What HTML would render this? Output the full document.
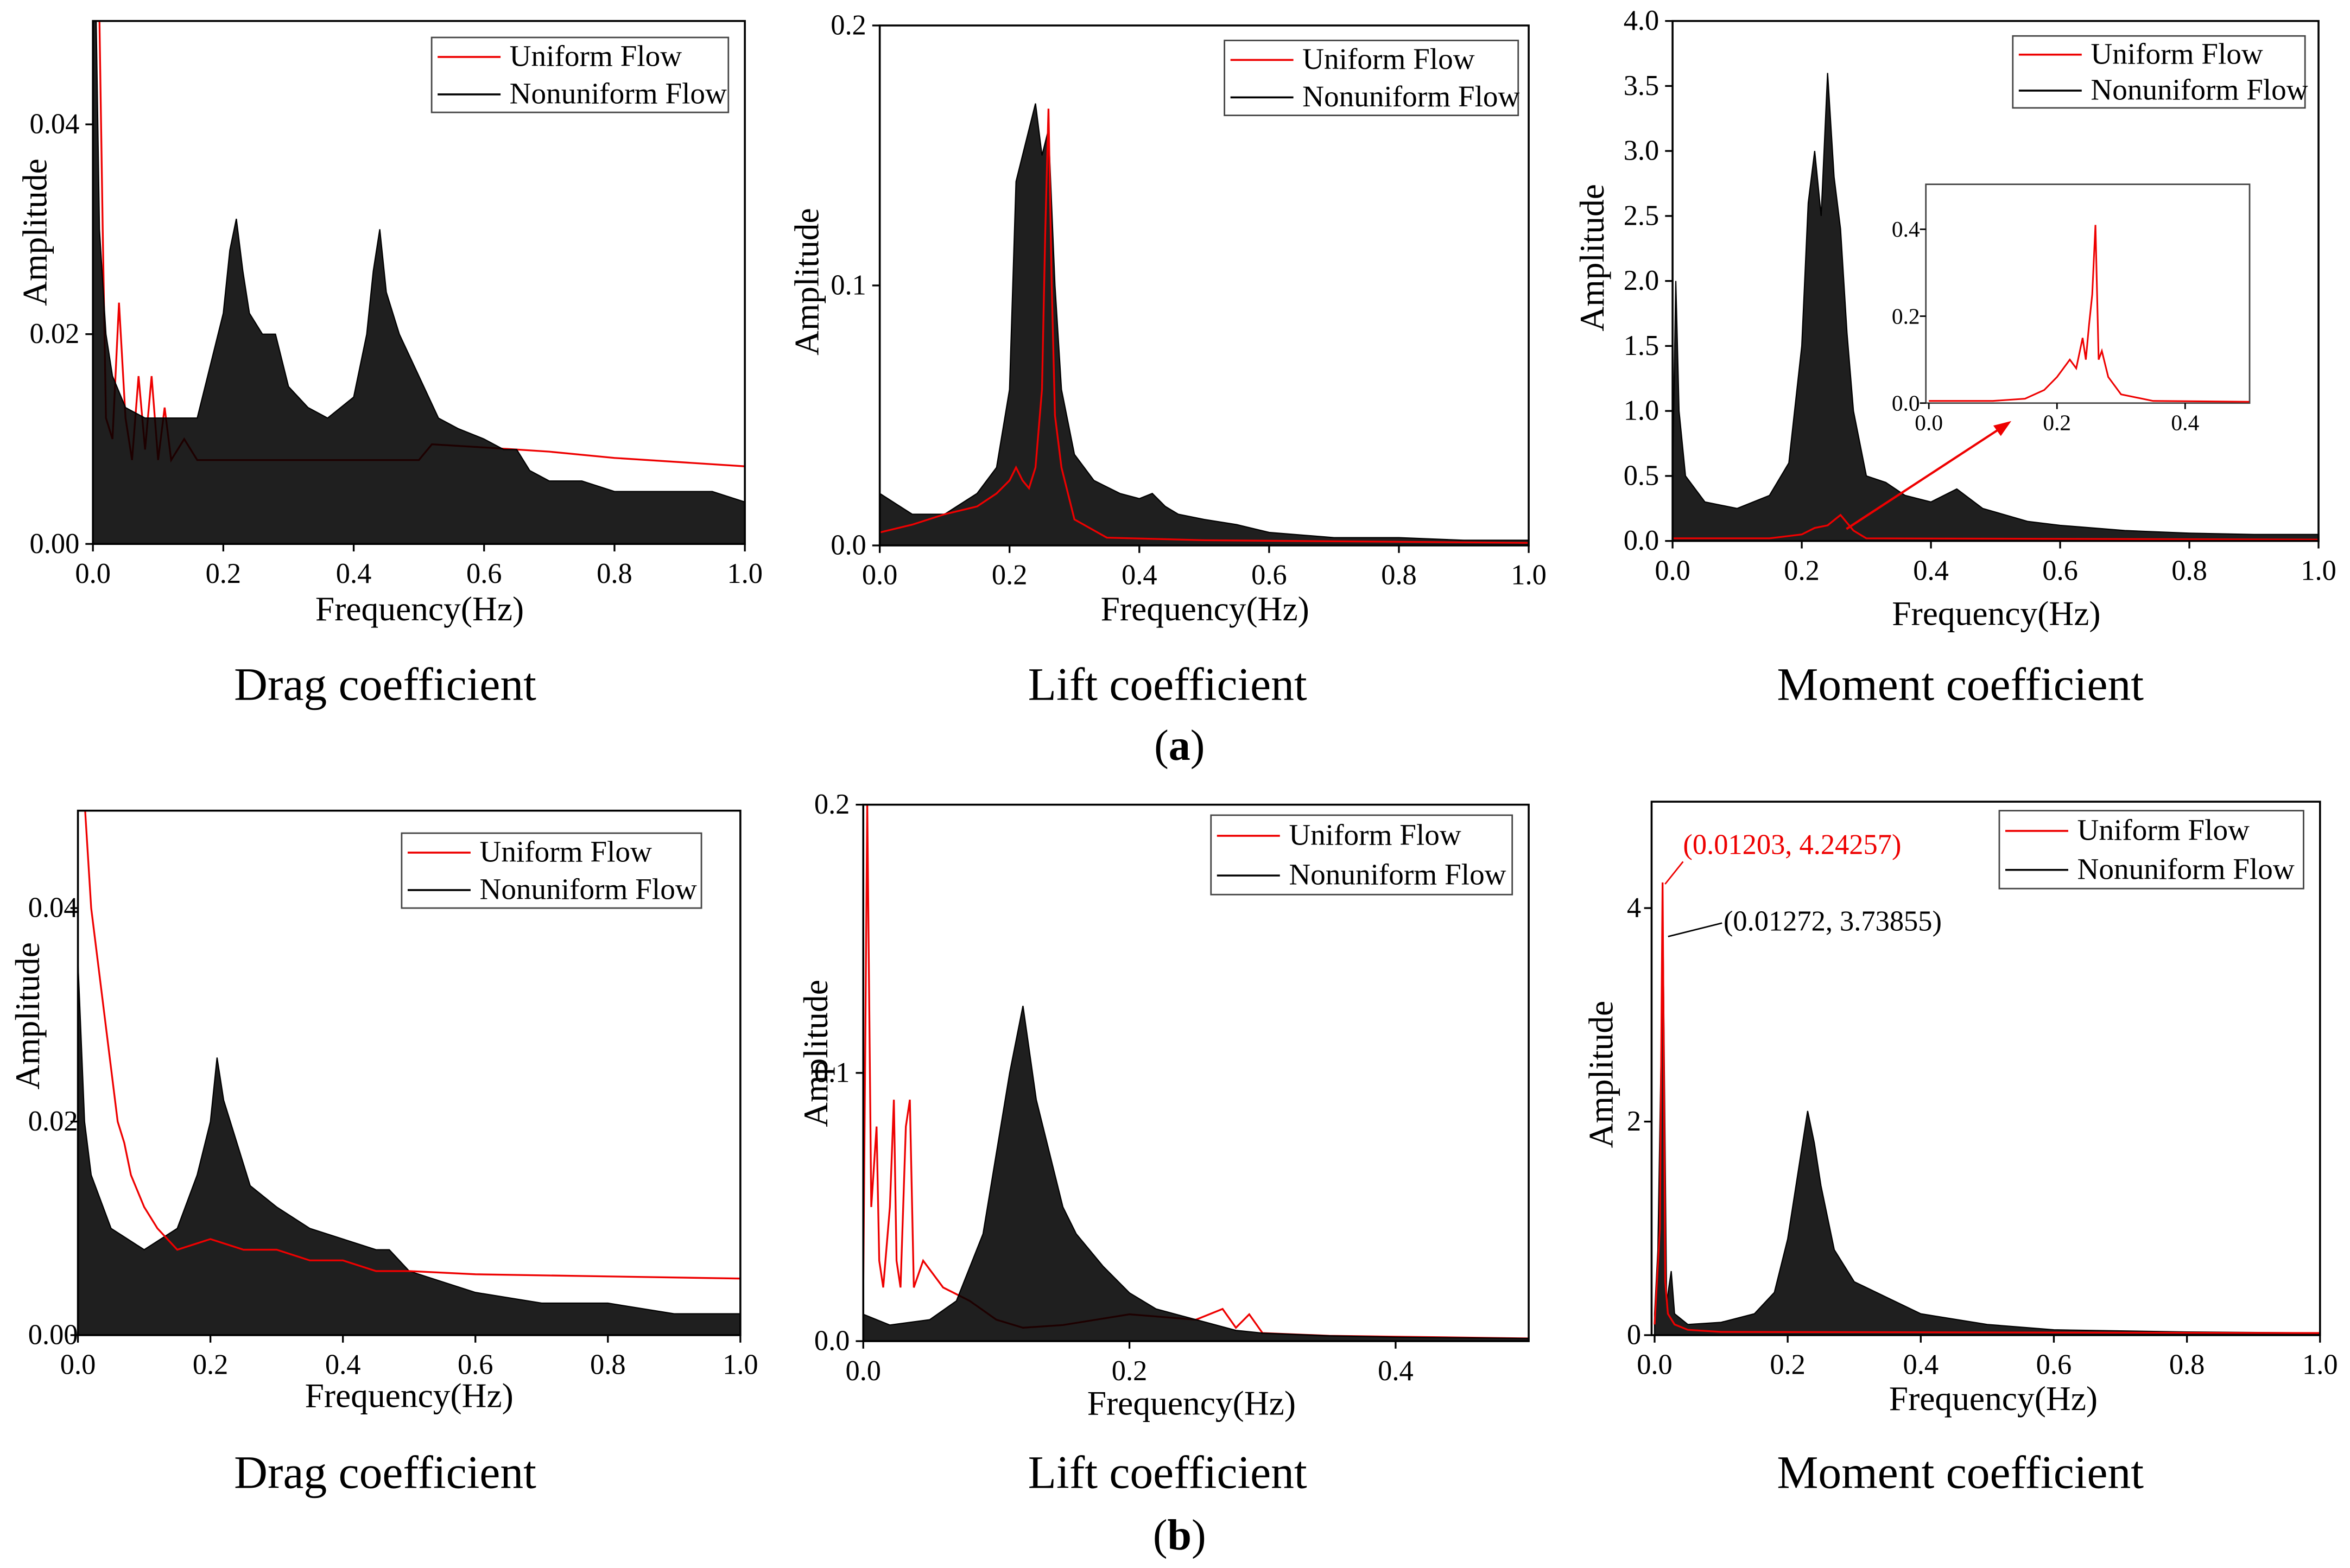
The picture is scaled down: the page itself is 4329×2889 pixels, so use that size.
<!DOCTYPE html>
<html><head><meta charset="utf-8"><title>Spectra</title>
<style>
html,body{margin:0;padding:0;background:#fff;}
svg{display:block;}
text{font-family:"Liberation Serif",serif;}
</style></head>
<body>
<svg id="fig" xmlns="http://www.w3.org/2000/svg" width="4329" height="2889" viewBox="0 0 1568 1046.4" preserveAspectRatio="none">
<rect x="0" y="0" width="1568" height="1047" fill="#fff"/>
<text x="257" y="467" font-size="31" text-anchor="middle">Drag coefficient</text>
<text x="779" y="467" font-size="31" text-anchor="middle">Lift coefficient</text>
<text x="1308" y="467" font-size="31" text-anchor="middle">Moment coefficient</text>
<text x="787" y="507" font-size="29" text-anchor="middle">(<tspan font-weight="bold">a</tspan>)</text>
<text x="257" y="993" font-size="31" text-anchor="middle">Drag coefficient</text>
<text x="779" y="993" font-size="31" text-anchor="middle">Lift coefficient</text>
<text x="1308" y="993" font-size="31" text-anchor="middle">Moment coefficient</text>
<text x="787" y="1034" font-size="29" text-anchor="middle">(<tspan font-weight="bold">b</tspan>)</text>
</svg>
<script>
// ---- data ----
const a1BlackF=[0,0.005,0.01,0.02,0.03,0.05,0.08,0.1,0.13,0.16,0.18,0.2,0.21,0.22,0.23,0.24,0.26,0.28,0.3,0.33,0.36,0.4,0.42,0.43,0.44,0.45,0.47,0.5,0.53,0.56,0.6,0.63,0.65,0.67,0.7,0.75,0.8,0.85,0.9,0.95,1.0];
const a1BlackV=[0.05,0.05,0.03,0.02,0.016,0.013,0.012,0.012,0.012,0.012,0.017,0.022,0.028,0.031,0.026,0.022,0.02,0.02,0.015,0.013,0.012,0.014,0.02,0.026,0.03,0.024,0.02,0.016,0.012,0.011,0.01,0.009,0.009,0.007,0.006,0.006,0.005,0.005,0.005,0.005,0.004];
const a1RedF=[0,0.01,0.015,0.02,0.03,0.04,0.05,0.06,0.07,0.08,0.09,0.1,0.11,0.12,0.14,0.16,0.2,0.3,0.4,0.5,0.52,0.6,0.7,0.8,0.9,1.0];
const a1RedV=[0.05,0.05,0.03,0.012,0.01,0.023,0.012,0.008,0.016,0.009,0.016,0.008,0.013,0.008,0.01,0.008,0.008,0.008,0.008,0.008,0.0095,0.0092,0.0088,0.0082,0.0078,0.0074];
const a2BlackF=[0,0.05,0.1,0.15,0.18,0.2,0.21,0.22,0.23,0.24,0.25,0.26,0.27,0.28,0.3,0.33,0.37,0.4,0.42,0.44,0.46,0.5,0.55,0.6,0.7,0.8,0.9,1.0];
const a2BlackV=[0.02,0.012,0.012,0.02,0.03,0.06,0.14,0.15,0.16,0.17,0.15,0.16,0.1,0.06,0.035,0.025,0.02,0.018,0.02,0.015,0.012,0.01,0.008,0.005,0.003,0.003,0.002,0.002];
const a2RedF=[0,0.05,0.1,0.15,0.18,0.2,0.21,0.22,0.23,0.24,0.25,0.255,0.26,0.265,0.27,0.28,0.3,0.35,0.5,1.0];
const a2RedV=[0.005,0.008,0.012,0.015,0.02,0.025,0.03,0.025,0.022,0.03,0.06,0.12,0.168,0.1,0.05,0.03,0.01,0.003,0.002,0.001];
const a3BlackF=[0,0.005,0.01,0.02,0.05,0.1,0.15,0.18,0.2,0.21,0.22,0.23,0.24,0.25,0.26,0.27,0.28,0.3,0.33,0.36,0.4,0.44,0.48,0.55,0.6,0.7,0.8,0.9,1.0];
const a3BlackV=[0.5,2.0,1.0,0.5,0.3,0.25,0.35,0.6,1.5,2.6,3.0,2.5,3.6,2.8,2.4,1.6,1.0,0.5,0.45,0.35,0.3,0.4,0.25,0.15,0.12,0.08,0.06,0.05,0.05];
const a3RedF=[0,0.15,0.2,0.22,0.24,0.26,0.28,0.3,1.0];
const a3RedV=[0.02,0.02,0.05,0.1,0.12,0.2,0.08,0.02,0.01];
const insetRedF=[0,0.1,0.15,0.18,0.2,0.22,0.23,0.24,0.245,0.25,0.255,0.26,0.265,0.27,0.28,0.3,0.35,0.5];
const insetRedV=[0.005,0.005,0.01,0.03,0.06,0.1,0.08,0.15,0.1,0.18,0.25,0.41,0.1,0.12,0.06,0.02,0.005,0.003];
const b1BlackF=[0,0.01,0.02,0.05,0.1,0.15,0.18,0.2,0.21,0.22,0.24,0.26,0.3,0.35,0.4,0.45,0.47,0.5,0.55,0.6,0.7,0.8,0.9,1.0];
const b1BlackV=[0.035,0.02,0.015,0.01,0.008,0.01,0.015,0.02,0.026,0.022,0.018,0.014,0.012,0.01,0.009,0.008,0.008,0.006,0.005,0.004,0.003,0.003,0.002,0.002];
const b1RedF=[0,0.01,0.02,0.03,0.04,0.05,0.06,0.07,0.08,0.1,0.12,0.15,0.2,0.25,0.3,0.35,0.4,0.45,0.5,0.6,0.8,1.0];
const b1RedV=[0.05,0.05,0.04,0.035,0.03,0.025,0.02,0.018,0.015,0.012,0.01,0.008,0.009,0.008,0.008,0.007,0.007,0.006,0.006,0.0057,0.0055,0.0053];
const b2BlackF=[0,0.02,0.05,0.07,0.09,0.1,0.11,0.12,0.13,0.14,0.15,0.16,0.18,0.2,0.22,0.25,0.28,0.3,0.35,0.4,0.5];
const b2BlackV=[0.01,0.006,0.008,0.015,0.04,0.07,0.1,0.125,0.09,0.07,0.05,0.04,0.028,0.018,0.012,0.008,0.004,0.003,0.002,0.0015,0.001];
const b2RedF=[0,0.003,0.006,0.01,0.012,0.015,0.02,0.023,0.025,0.028,0.032,0.035,0.038,0.045,0.06,0.08,0.1,0.12,0.15,0.2,0.25,0.27,0.28,0.29,0.3,0.35,0.5];
const b2RedV=[0.02,0.2,0.05,0.08,0.03,0.02,0.05,0.09,0.03,0.02,0.08,0.09,0.02,0.03,0.02,0.015,0.008,0.005,0.006,0.01,0.008,0.012,0.005,0.01,0.003,0.002,0.001];
const b3BlackF=[0,0.005,0.0127,0.018,0.025,0.03,0.05,0.1,0.15,0.18,0.2,0.22,0.23,0.24,0.25,0.27,0.3,0.35,0.4,0.5,0.6,0.8,1.0];
const b3BlackV=[0.2,0.8,3.74,0.3,0.6,0.2,0.1,0.12,0.2,0.4,0.9,1.7,2.1,1.8,1.4,0.8,0.5,0.35,0.2,0.1,0.05,0.03,0.02];
const b3RedF=[0,0.008,0.012,0.016,0.02,0.03,0.05,0.1,1.0];
const b3RedV=[0.1,1.0,4.24,0.5,0.2,0.1,0.05,0.03,0.02];
const xTicks1=["0.0","0.2","0.4","0.6","0.8","1.0"];
const xTicksHalf=["0.0","0.2","0.4"];
const yTicksDrag=["0.00","0.02","0.04"];
const yTicksLift=["0.0","0.1","0.2"];
const yTicksMomA=["0.0","0.5","1.0","1.5","2.0","2.5","3.0","3.5","4.0"];
const yTicksMomB=["0","2","4"];
const yTicksInset=["0.0","0.2","0.4"];

const NS="http://www.w3.org/2000/svg";
const svg=document.getElementById('fig');
function el(tag,attrs,parent){const e=document.createElementNS(NS,tag);for(const k in attrs)e.setAttribute(k,attrs[k]);(parent||svg).appendChild(e);return e;}

function panel(p){
  const g=el('g',{});
  
  
  const sx=v=>p.x0+(v-p.xmin)/(p.xmax-p.xmin)*(p.x1-p.x0);
  const sy=v=>p.y0-(v-p.ymin)/(p.ymax-p.ymin)*(p.y0-p.y1);
  const cid='clip-'+p.name;
  const cp=el('clipPath',{id:cid},g);
  el('rect',{x:p.bx0,y:p.by0,width:p.bx1-p.bx0,height:p.by1-p.by0},cp);
  const dg=el('g',{'clip-path':'url(#'+cid+')'},g);
  function black(){
    let d='M'+sx(p.bf[0])+','+sy(0);
    for(let i=0;i<p.bf.length;i++)d+=' L'+sx(p.bf[i]).toFixed(2)+','+sy(p.bv[i]).toFixed(2);
    d+=' L'+sx(p.bf[p.bf.length-1])+','+sy(0)+' Z';
    const a=el('path',{d:d,fill:'#000','fill-opacity':'0.88',stroke:'#000','stroke-width':'0.8'},dg);
    
    
  }
  function red(){
    let d='';
    for(let i=0;i<p.rf.length;i++)d+=(i?' L':'M')+sx(p.rf[i]).toFixed(2)+','+sy(p.rv[i]).toFixed(2);
    const r=el('path',{d:d,fill:'none',stroke:'#e00', 'stroke-width':'1.2'},dg);
    
    
  }
  if(p.redFirst){red();black();}else{black();red();}
  const box=el('rect',{x:p.bx0,y:p.by0,width:p.bx1-p.bx0,height:p.by1-p.by0,fill:'none',stroke:'#000','stroke-width':'1.3'},g);
  
  
  p.xt.forEach(t=>{const v=parseFloat(t);const x=sx(v);
    el('line',{x1:x,y1:p.by1,x2:x,y2:p.by1+5,stroke:'#000','stroke-width':'1.2'},g);
    const tx=el('text',{x:x,y:p.by1+26,'font-size':'19','text-anchor':'middle'},g);tx.textContent=t;
    
    });
  p.yt.forEach(t=>{const v=parseFloat(t);const y=sy(v);
    el('line',{x1:p.bx0,y1:y,x2:p.bx0-5,y2:y,stroke:'#000','stroke-width':'1.2'},g);
    const tx=el('text',{x:p.ylx,y:y+6,'font-size':'19','text-anchor':'end'},g);tx.textContent=t;
    
    });
  const xl=el('text',{x:p.xlabX,y:p.xlabY,'font-size':'23','text-anchor':'middle'},g);xl.textContent='Frequency(Hz)';
  
  
  const yl=el('text',{x:0,y:0,'font-size':'23','text-anchor':'middle',transform:'translate('+p.ylabX+','+p.ylabY+') rotate(-90)'},g);yl.textContent='Amplitude';
  
  
  const L=p.leg;
  const lg=el('g',{},g);
  
  
  el('rect',{x:L[0],y:L[1],width:L[2]-L[0],height:L[3]-L[1],fill:'#fff',stroke:'#444','stroke-width':'1'},lg);
  const h=(L[3]-L[1]);
  [['Uniform Flow','#e00'],['Nonuniform Flow','#000']].forEach((e,i)=>{
    const y=L[1]+h*(0.26+0.5*i);
    el('line',{x1:L[0]+4,y1:y,x2:L[0]+46,y2:y,stroke:e[1],'stroke-width':'1.3'},lg);
    const t=el('text',{x:L[0]+52,y:y+6,'font-size':'20'},lg);t.textContent=e[0];
    
    
  });
  return {sx,sy,g};
}

panel({name:'drag-a',bf:a1BlackF,bv:a1BlackV,rf:a1RedF,rv:a1RedV,redFirst:true,
 x0:62,x1:497,xmin:0,xmax:1,y0:363,y1:83,ymin:0,ymax:0.04,bx0:62,bx1:497,by0:14,by1:363,
 xt:xTicks1,yt:yTicksDrag,ylx:53,xlabX:280,xlabY:414,ylabX:31,ylabY:155,leg:[288,25,486,75]});
panel({name:'lift-a',bf:a2BlackF,bv:a2BlackV,rf:a2RedF,rv:a2RedV,redFirst:false,
 x0:587,x1:1020,xmin:0,xmax:1,y0:364,y1:17,ymin:0,ymax:0.2,bx0:587,bx1:1020,by0:17,by1:364,
 xt:xTicks1,yt:yTicksLift,ylx:578,xlabX:804,xlabY:414,ylabX:546,ylabY:188,leg:[817,27,1013,77]});
const m=panel({name:'moment-a',bf:a3BlackF,bv:a3BlackV,rf:a3RedF,rv:a3RedV,redFirst:false,
 x0:1116,x1:1547,xmin:0,xmax:1,y0:361,y1:14,ymin:0,ymax:4,bx0:1116,bx1:1547,by0:14,by1:361,
 xt:xTicks1,yt:yTicksMomA,ylx:1107,xlabX:1332,xlabY:417,ylabX:1070,ylabY:172,leg:[1343,24,1538,72]});
panel({name:'drag-b',bf:b1BlackF,bv:b1BlackV,rf:b1RedF,rv:b1RedV,redFirst:false,
 x0:52,x1:494,xmin:0,xmax:1,y0:891,y1:606,ymin:0,ymax:0.04,bx0:52,bx1:494,by0:541,by1:891,
 xt:xTicks1,yt:yTicksDrag,ylx:52,xlabX:273,xlabY:939,ylabX:26,ylabY:678,leg:[268,556,468,606]});
panel({name:'lift-b',bf:b2BlackF,bv:b2BlackV,rf:b2RedF,rv:b2RedV,redFirst:true,
 x0:576,x1:1020,xmin:0,xmax:0.5,y0:895,y1:537,ymin:0,ymax:0.2,bx0:576,bx1:1020,by0:537,by1:895,
 xt:xTicksHalf,yt:yTicksLift,ylx:567,xlabX:795,xlabY:944,ylabX:552,ylabY:703,leg:[808,544,1009,597]});
const b3=panel({name:'moment-b',bf:b3BlackF,bv:b3BlackV,rf:b3RedF,rv:b3RedV,redFirst:false,
 x0:1104,x1:1548,xmin:0,xmax:1,y0:891,y1:606,ymin:0,ymax:4,bx0:1102,bx1:1548,by0:535,by1:891,
 xt:xTicks1,yt:yTicksMomB,ylx:1095,xlabX:1330,xlabY:941,ylabX:1076,ylabY:717,leg:[1334,541,1537,593]});

// inset in moment-a
const ig=el('g',{});


const ix=v=>1287+v/0.4*(1458-1287), iy=v=>269-v/0.4*(269-153);
el('rect',{x:1285,y:123,width:216,height:146,fill:'#fff',stroke:'#444','stroke-width':'1'},ig);
let idd='';
for(let i=0;i<insetRedF.length;i++)idd+=(i?' L':'M')+ix(insetRedF[i]).toFixed(2)+','+iy(insetRedV[i]).toFixed(2);
const ip=el('path',{d:idd,fill:'none',stroke:'#e00','stroke-width':'1.1'},ig);


xTicksHalf.forEach(t=>{const x=ix(parseFloat(t));el('line',{x1:x,y1:269,x2:x,y2:273,stroke:'#000'},ig);
 const tt=el('text',{x:x,y:287,'font-size':'15','text-anchor':'middle'},ig);tt.textContent=t;
 
 });
yTicksInset.forEach(t=>{const y=iy(parseFloat(t));el('line',{x1:1285,y1:y,x2:1281,y2:y,stroke:'#000'},ig);
 const tt=el('text',{x:1281,y:y+5,'font-size':'15','text-anchor':'end'},ig);tt.textContent=t;
 
 });
const ar=el('line',{x1:1232,y1:353,x2:1336,y2:285,stroke:'#e00','stroke-width':'1.5'});


el('polygon',{points:'1342,281 1330,284 1335,291',fill:'#e00'});

// annotations moment-b
const an1=el('text',{x:1123,y:570,'font-size':'19',fill:'#e00'});an1.textContent='(0.01203, 4.24257)';


el('line',{x1:1123,y1:575,x2:1111,y2:590,stroke:'#e00','stroke-width':'1'});
const an2=el('text',{x:1150,y:621,'font-size':'19',fill:'#000'});an2.textContent='(0.01272, 3.73855)';


el('line',{x1:1149,y1:616,x2:1113,y2:625,stroke:'#000','stroke-width':'1'});
</script>
</body></html>
